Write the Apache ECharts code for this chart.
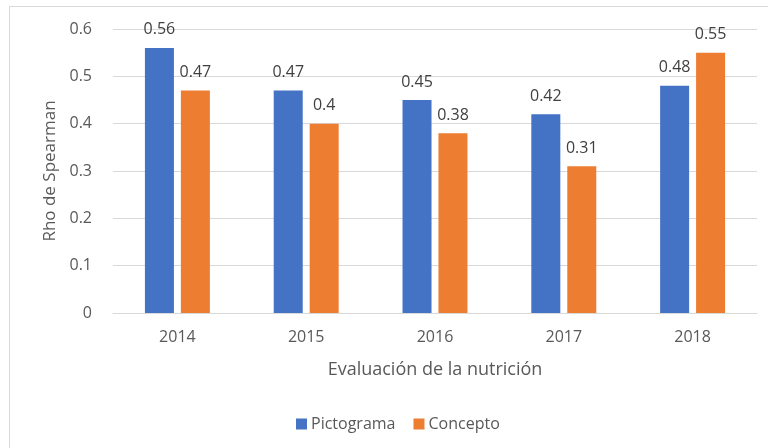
<!DOCTYPE html>
<html>
<head>
<meta charset="utf-8">
<script src="https://cdn.jsdelivr.net/npm/echarts@6/dist/echarts.min.js"></script>
<style>
  html, body { margin: 0; padding: 0; background: #fff; }
  #main { width: 768px; height: 448px; }
  #frame { position: absolute; left: 9px; top: 6px; width: 800px; height: 500px; border: 1px solid #d9d9d9; pointer-events: none; }
</style>
</head>
<body>
<div id="main"></div>
<div id="frame"></div>
<script>
    // chart data
    var years = ['2014', '2015', '2016', '2017', '2018'];
    var pictograma = [0.56, 0.47, 0.45, 0.42, 0.48];
    var concepto = [0.47, 0.4, 0.38, 0.31, 0.55];
    var yTicks = [0, 0.1, 0.2, 0.3, 0.4, 0.5, 0.6];

    var myChart = echarts.init(document.getElementById('main'));
    var fontFam = 'Open Sans';

    var labelSetting = {
        show: true,
        position: 'top',
        distance: 10,
        color: '#404040',
        fontSize: 16,
        fontFamily: fontFam
    };

    var option = {
        textStyle: { fontFamily: fontFam },
        animation: false,
        grid: {
            left: 113,
            right: 11,
            top: 29,
            bottom: 135
        },
        legend: {
            bottom: 11,
            left: 291,
            itemWidth: 11,
            itemHeight: 11,
            itemGap: 18,
            icon: 'rect',
            textStyle: { color: '#595959', fontSize: 16, fontFamily: fontFam, padding: [0, 0, 0, -1] },
            data: ['Pictograma', 'Concepto']
        },
        xAxis: {
            type: 'category',
            data: years,
            name: 'Evaluación de la nutrición',
            nameLocation: 'middle',
            nameGap: 48,
            nameTextStyle: { color: '#595959', fontSize: 18, fontFamily: fontFam },
            axisLine: { lineStyle: { color: '#d9d9d9' } },
            axisTick: { show: false },
            axisLabel: { color: '#595959', fontSize: 16, margin: 16 }
        },
        yAxis: {
            type: 'value',
            min: 0,
            max: 0.6,
            interval: 0.1,
            name: 'Rho de Spearman',
            nameLocation: 'middle',
            nameGap: 53,
            nameTextStyle: { color: '#595959', fontSize: 17, fontFamily: fontFam },
            axisLabel: {
                color: '#595959',
                fontSize: 16,
                margin: 21,
                formatter: function (v) {
                    var t = yTicks.filter(function (x) { return Math.abs(x - v) < 1e-9; });
                    return t.length ? String(t[0]) : '';
                }
            },
            splitLine: { lineStyle: { color: '#d9d9d9' } },
            axisLine: { show: false },
            axisTick: { show: false }
        },
        series: [
            {
                name: 'Pictograma',
                type: 'bar',
                data: pictograma,
                barWidth: 29,
                barGap: '24%',
                itemStyle: { color: '#4472c4' },
                label: labelSetting
            },
            {
                name: 'Concepto',
                type: 'bar',
                data: concepto,
                barWidth: 29,
                itemStyle: { color: '#ed7d31' },
                label: labelSetting
            }
        ]
    };

    myChart.setOption(option);
</script>
</body>
</html>
